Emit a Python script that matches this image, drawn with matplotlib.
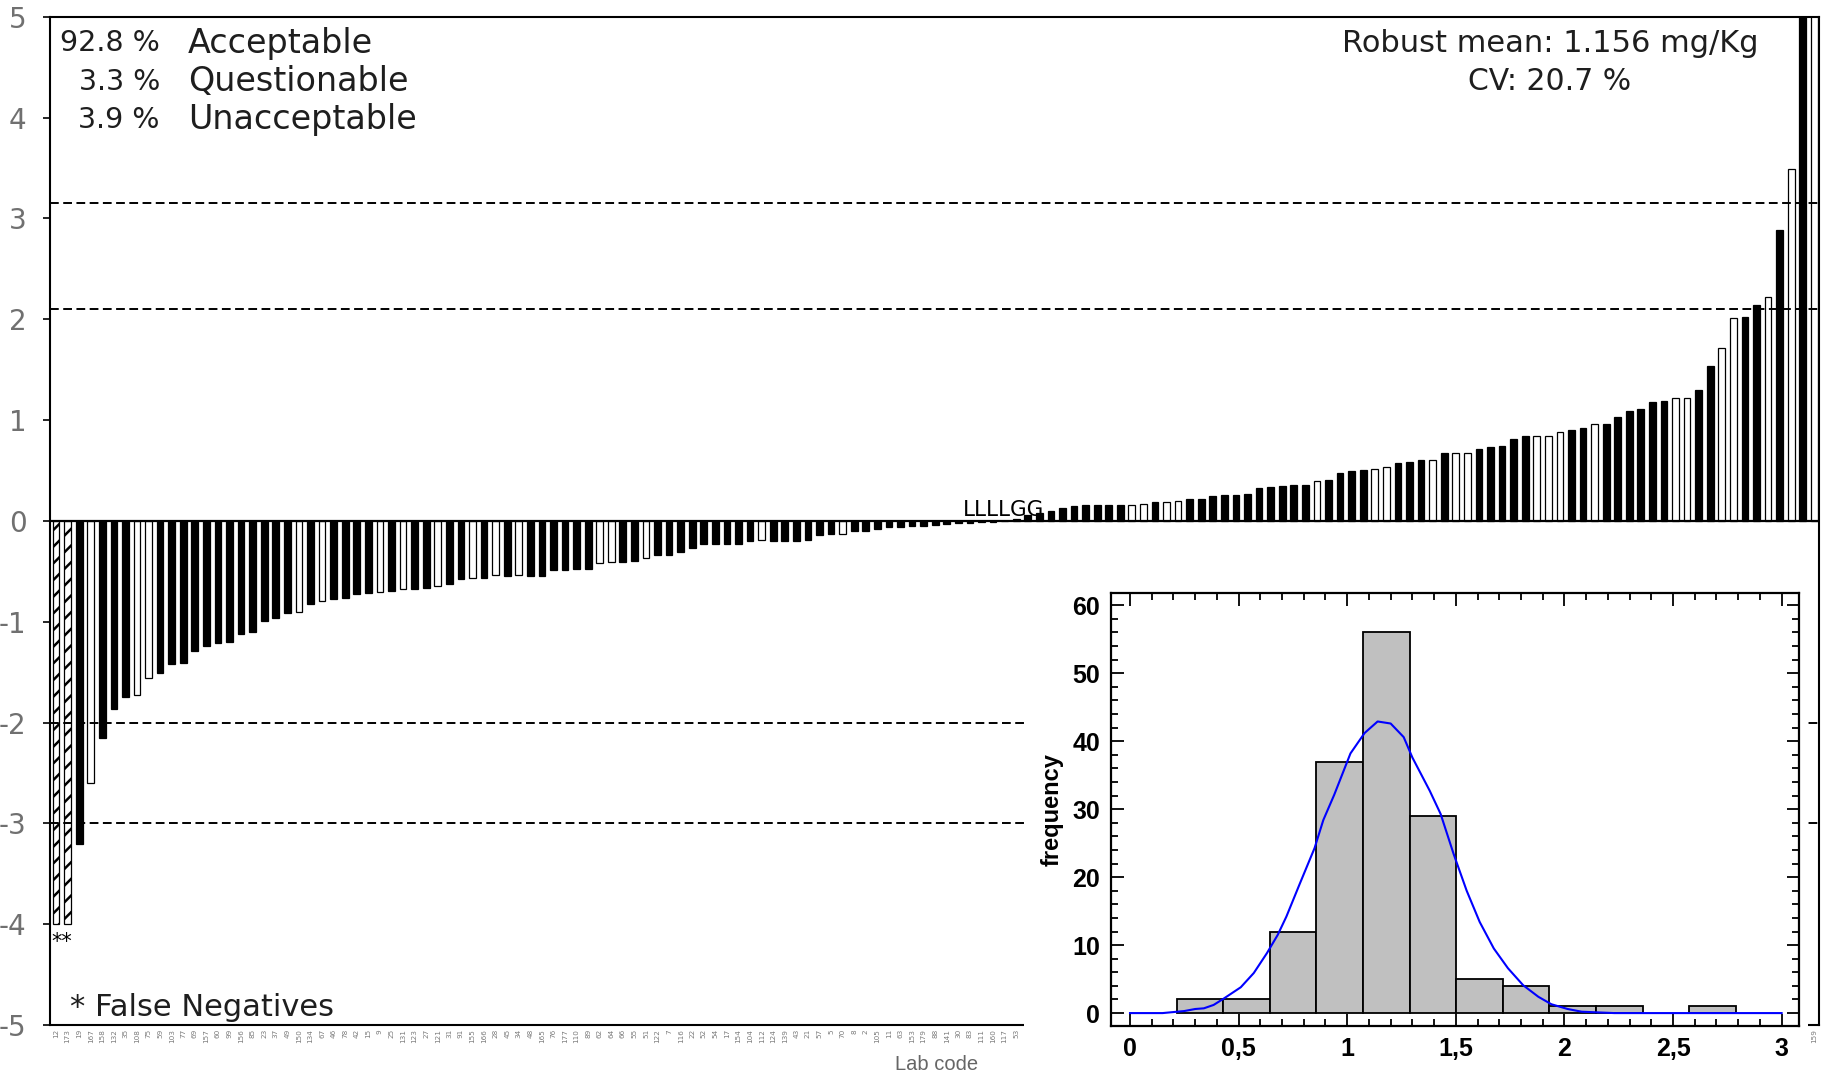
import numpy as np
import matplotlib.pyplot as plt
from matplotlib.patches import Rectangle
from matplotlib.ticker import MultipleLocator

plt.rcParams['hatch.linewidth'] = 1.8

# z-scores, sorted, one per lab (last two are off the scale)
z_scores = [-4.0, -4.0, -3.2, -2.6, -2.15, -1.87, -1.75, -1.73, -1.56, -1.51,
            -1.42, -1.41, -1.29, -1.24, -1.21, -1.20, -1.12, -1.10, -0.99, -0.96,
            -0.91, -0.90, -0.82, -0.79, -0.78, -0.77, -0.73, -0.72, -0.71, -0.70,
            -0.68, -0.68, -0.67, -0.65, -0.63, -0.58, -0.57, -0.57, -0.54, -0.55,
            -0.54, -0.55, -0.55, -0.49, -0.49, -0.475, -0.48, -0.42, -0.41, -0.41,
            -0.40, -0.37, -0.34, -0.34, -0.31, -0.27, -0.23, -0.23, -0.23, -0.23,
            -0.20, -0.19, -0.20, -0.20, -0.20, -0.19, -0.14, -0.13, -0.13, -0.10,
            -0.10, -0.08, -0.06, -0.06, -0.055, -0.05, -0.04, -0.03, -0.02, -0.02,
            -0.015, -0.01, -0.005, 0.02, 0.06, 0.08, 0.10, 0.125, 0.15, 0.16,
            0.16, 0.16, 0.16, 0.155, 0.17, 0.19, 0.19, 0.20, 0.22, 0.22,
            0.25, 0.26, 0.26, 0.27, 0.33, 0.34, 0.35, 0.36, 0.36, 0.40,
            0.41, 0.47, 0.49, 0.50, 0.51, 0.53, 0.57, 0.58, 0.60, 0.60,
            0.67, 0.67, 0.67, 0.71, 0.73, 0.74, 0.81, 0.845, 0.845, 0.845,
            0.88, 0.90, 0.92, 0.96, 0.96, 1.03, 1.09, 1.11, 1.18, 1.19,
            1.22, 1.22, 1.30, 1.54, 1.71, 2.01, 2.02, 2.14, 2.225, 2.88,
            3.49, 5.5, 5.5]

# F = false negative, B / W = the two method groups
method = list("FFBWBBBWWBBBBBBBBBBBBWBWBBBBWBWBBWBBWBWBWBBBBBBWWBBWBBBBBBBBB"
              "WBBBBBBWBBBBBBBBBBBBBBBBBBBBBBBBWWBWWBBBBBBBBBBBWBBBBWWBBBWB"
              "WWBBBBBWWWBBWBBBBBBWWBBWWBBWBWBW")
assert len(method) == len(z_scores)

visible_codes = ['12', '173', '19', '167', '158', '132', '35', '108', '75', '59',
                 '103', '77', '69', '157', '60', '99', '156', '85', '23', '37',
                 '49', '150', '134', '67', '46', '78', '42', '15', '9', '25',
                 '131', '123', '27', '121', '31', '91', '155', '166', '28', '45',
                 '34', '48', '165', '76', '177', '110', '89', '62', '64', '66',
                 '55', '51', '122', '7', '116', '22', '52', '54', '17', '154',
                 '104', '112', '124', '139', '43', '21', '57', '5', '70', '8',
                 '2', '105', '11', '63', '153', '179', '88', '141', '30', '83',
                 '111', '160', '117', '53']
# codes under the histogram are hidden in the original
lab_codes = visible_codes + [''] * (len(z_scores) - len(visible_codes) - 1) + ['159']

limits = [-3, -2, 2.1, 3.15]

# histogram of reported results (mg/Kg)
bin_edges = [0.215, 0.43, 0.644, 0.858, 1.073, 1.287, 1.502, 1.716, 1.931,
             2.145, 2.36, 2.574, 2.789]
counts = [2, 2, 12, 37, 56, 29, 5, 4, 1, 1, 0, 1]
curve_x = [0.0, 0.15, 0.20, 0.25, 0.30, 0.34, 0.385, 0.43, 0.51, 0.57, 0.63,
           0.68, 0.72, 0.78, 0.85, 0.89, 0.94, 1.015, 1.08, 1.14, 1.20, 1.26,
           1.30, 1.38, 1.43, 1.49, 1.55, 1.61, 1.675, 1.74, 1.81, 1.88, 1.94,
           2.015, 2.08, 2.155, 2.23, 3.0]
curve_y = [0.0, 0.0, 0.15, 0.3, 0.6, 0.7, 1.2, 2.1, 3.8, 5.9, 8.8,
           11.5, 14.2, 18.9, 24.3, 28.4, 32.1, 38.2, 41.2, 42.9, 42.6, 40.6,
           37.6, 32.7, 29.3, 23.4, 18.0, 13.4, 9.5, 6.6, 4.1, 2.4, 1.3,
           0.6, 0.2, 0.1, 0.0, 0.0]

W, H = 1825, 1081
def fx(px):
    return px / W
def fy(py):
    return 1 - py / H

fig = plt.figure(figsize=(W / 100, H / 100), dpi=100)

#main z-score chart
ax = fig.add_axes([fx(50), fy(1025), fx(1819) - fx(50), fy(16.7) - fy(1025)])
x = np.arange(len(z_scores))
face = {'F': 'white', 'B': 'black', 'W': 'white'}
bars = ax.bar(x, z_scores, width=0.58, color=[face[m] for m in method],
              edgecolor='black', linewidth=0.9, zorder=2)
for b, m in zip(bars, method):
    if m == 'F':
        b.set_hatch('//')

ax.axhline(0, color='black', lw=1.6, zorder=3)
for lvl in limits:
    ax.axhline(lvl, color='black', lw=1.4, ls=(0, (4.5, 2.3)), zorder=3)

ax.set_xlim(-0.52, 152.4)
ax.set_ylim(-5, 5)
ax.set_yticks(range(-5, 6))
ax.set_yticklabels([str(v) for v in range(-5, 6)], fontsize=20, color='#707070')
ax.tick_params(axis='y', direction='out', length=5, width=1.2, pad=12)
ax.set_xticks(x)
ax.set_xticklabels(lab_codes, rotation=90, fontsize=5.2, color='#7a7a7a')
ax.tick_params(axis='x', length=0, pad=3)
for s in ax.spines.values():
    s.set_linewidth(1.5)

ax.text(0.5, -4.18, '**', ha='center', va='center', fontsize=15)
ax.text(78.4, 0.01, 'LLLLGG', ha='left', va='bottom', fontsize=15.5)

txt_col = '#1e1e1e'
rows = [('92.8 %', 'Acceptable'), ('3.3 %', 'Questionable'), ('3.9 %', 'Unacceptable')]
for i, (pct, lab) in enumerate(rows):
    yy = 43 + i * 38.5
    fig.text(fx(160), fy(yy), pct, ha='right', va='center', fontsize=20.5, color=txt_col)
    fig.text(fx(188), fy(yy), lab, ha='left', va='center', fontsize=24, color=txt_col)
fig.text(fx(1550), fy(43), 'Robust mean: 1.156 mg/Kg', ha='center', va='center',
         fontsize=22, color=txt_col)
fig.text(fx(1550), fy(81.5), 'CV: 20.7 %', ha='center', va='center',
         fontsize=21.5, color=txt_col)
fig.text(fx(70), fy(1008), '* False Negatives', ha='left', va='center',
         fontsize=22, color=txt_col)
fig.text(fx(937), fy(1065), 'Lab code', ha='center', va='center', fontsize=14.5,
         color='#666666', family='Liberation Sans')

# white panel behind the inset
fig.add_artist(Rectangle((fx(1024), 0), fx(1808) - fx(1024), fy(583),
                         transform=fig.transFigure, facecolor='white',
                         edgecolor='none', zorder=1))

#inset histogram
ins = fig.add_axes([fx(1111), fy(1026), fx(1799) - fx(1111), fy(593) - fy(1026)])
ins.set_zorder(2)
edges = np.array(bin_edges)
cnt = np.array(counts)
keep = cnt > 0
ins.bar(edges[:-1][keep], cnt[keep], width=np.diff(edges)[keep], align='edge',
        color='#c0c0c0', edgecolor='black', linewidth=1.3, zorder=2)
ins.plot(curve_x, curve_y, color='#0000ff', lw=1.5, zorder=3)
ins.set_xlim(-0.0875, 3.08)
ins.set_ylim(-1.9, 61.8)
ins.set_xticks([0, 0.5, 1, 1.5, 2, 2.5, 3])
ins.set_xticklabels(['0', '0,5', '1', '1,5', '2', '2,5', '3'])
ins.set_yticks(range(0, 61, 10))
ins.xaxis.set_minor_locator(MultipleLocator(0.1))
ins.yaxis.set_minor_locator(MultipleLocator(2))
ins.tick_params(which='both', direction='in', top=True, right=True, width=1.3)
ins.tick_params(which='major', length=9, pad=8)
ins.tick_params(which='minor', length=5)
for lab in ins.get_xticklabels() + ins.get_yticklabels():
    lab.set_fontsize(18)
    lab.set_fontweight('bold')
    lab.set_family('Liberation Sans')
ins.set_ylabel('frequency', fontsize=17, fontweight='bold', family='Liberation Sans',
               labelpad=6)
for s in ins.spines.values():
    s.set_linewidth(1.6)

fig.savefig('out.png', dpi=100)
